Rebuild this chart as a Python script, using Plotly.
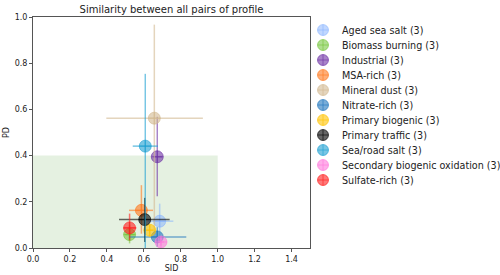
import plotly.graph_objects as go

names = ["Aged sea salt (3)", "Biomass burning (3)", "Industrial (3)", "MSA-rich (3)",
         "Mineral dust (3)", "Nitrate-rich (3)", "Primary biogenic (3)", "Primary traffic (3)",
         "Sea/road salt (3)", "Secondary biogenic oxidation (3)", "Sulfate-rich (3)"]
sid = [0.686, 0.523, 0.673, 0.587, 0.657, 0.673, 0.632, 0.605, 0.608, 0.693, 0.523]
pd_ = [0.116, 0.058, 0.395, 0.163, 0.562, 0.048, 0.077, 0.123, 0.441, 0.026, 0.087]
sid_lo = [0.62, 0.50, 0.65, 0.52, 0.397, 0.52, 0.61, 0.466, 0.54, 0.68, 0.49]
sid_hi = [0.76, 0.55, 0.70, 0.65, 0.92, 0.83, 0.65, 0.74, 0.677, 0.71, 0.56]
pd_lo = [0.033, 0.02, 0.224, 0.062, 0.06, 0.005, 0.05, 0.026, 0.0, 0.01, 0.033]
pd_hi = [0.192, 0.10, 0.568, 0.272, 0.967, 0.09, 0.10, 0.217, 0.754, 0.045, 0.149]
colors = ["rgba(130,175,255,0.5)", "rgba(110,195,50,0.55)", "rgba(110,50,165,0.6)",
          "rgba(255,120,30,0.6)", "rgba(210,185,145,0.6)", "rgba(31,119,190,0.6)",
          "rgba(255,195,0,0.6)", "rgba(0,0,0,0.6)", "rgba(30,160,210,0.6)",
          "rgba(255,120,220,0.6)", "rgba(255,30,30,0.6)"]

W, H = 500, 275
PL, PR, PT, PB = 33, 310, 17, 248  # plot area in px

fig = go.Figure()
fig.add_shape(type="rect", x0=0, x1=1.0, y0=0, y1=0.4, xref="x", yref="y",
              fillcolor="rgba(190,220,180,0.4)", line_width=0, layer="below")
for i, n in enumerate(names):
    fig.add_trace(go.Scatter(
        x=[sid[i]], y=[pd_[i]], name=n, mode="markers", showlegend=False,
        marker=dict(size=12, color=colors[i], symbol="circle-cross",
                    line=dict(color=colors[i], width=1)),
        error_x=dict(type="data", symmetric=False, array=[sid_hi[i] - sid[i]],
                     arrayminus=[sid[i] - sid_lo[i]], color=colors[i], thickness=1.5, width=0),
        error_y=dict(type="data", symmetric=False, array=[pd_hi[i] - pd_[i]],
                     arrayminus=[pd_[i] - pd_lo[i]], color=colors[i], thickness=1.5, width=0),
    ))

# custom legend (drawn on a full-figure axis pair in pixel units)
for i, n in enumerate(names):
    ly = 30 + 15 * i
    fig.add_trace(go.Scatter(
        x=[323], y=[ly], xaxis="x2", yaxis="y2", mode="markers", showlegend=False,
        hoverinfo="skip",
        marker=dict(size=11, color=colors[i], symbol="circle-cross",
                    line=dict(color=colors[i], width=1)),
    ))
    fig.add_annotation(x=340, y=ly, xref="x2", yref="y2", text=n, showarrow=False,
                       xanchor="left", yanchor="middle", font=dict(size=9.6))

axis_common = dict(showline=True, linecolor="#555", linewidth=1, mirror=True,
                   ticks="outside", ticklen=3, tickcolor="#555", showgrid=False,
                   zeroline=False, automargin=False, tickfont=dict(size=8, color="#222"))
fig.update_layout(
    width=W, height=H, plot_bgcolor="rgba(0,0,0,0)", paper_bgcolor="white",
    margin=dict(l=0, r=0, t=0, b=0),
    font=dict(family="DejaVu Sans", color="#222"),
    title=dict(text="Similarity between all pairs of profile", x=(PL + PR) / 2 / W,
               xanchor="center", y=1 - 9 / H, yanchor="middle", font=dict(size=10)),
    xaxis=dict(domain=[PL / W, PR / W], range=[0, 1.5], anchor="y",
               tickvals=[0, 0.2, 0.4, 0.6, 0.8, 1.0, 1.2, 1.4],
               ticktext=["0.0", "0.2", "0.4", "0.6", "0.8", "1.0", "1.2", "1.4"],
               title=dict(text="SID", font=dict(size=8), standoff=2), **axis_common),
    yaxis=dict(domain=[1 - PB / H, 1 - PT / H], range=[0, 1.0], anchor="x",
               tickvals=[0, 0.2, 0.4, 0.6, 0.8, 1.0],
               ticktext=["0.0", "0.2", "0.4", "0.6", "0.8", "1.0"],
               title=dict(text="PD", font=dict(size=8), standoff=3), **axis_common),
    xaxis2=dict(domain=[0, 1], range=[0, W], visible=False, fixedrange=True, anchor="y2"),
    yaxis2=dict(domain=[0, 1], range=[H, 0], visible=False, fixedrange=True, anchor="x2"),
    showlegend=False,
)
fig.write_html("out.html", config={"displayModeBar": False},
               post_script="document.body.style.margin='0px';")
